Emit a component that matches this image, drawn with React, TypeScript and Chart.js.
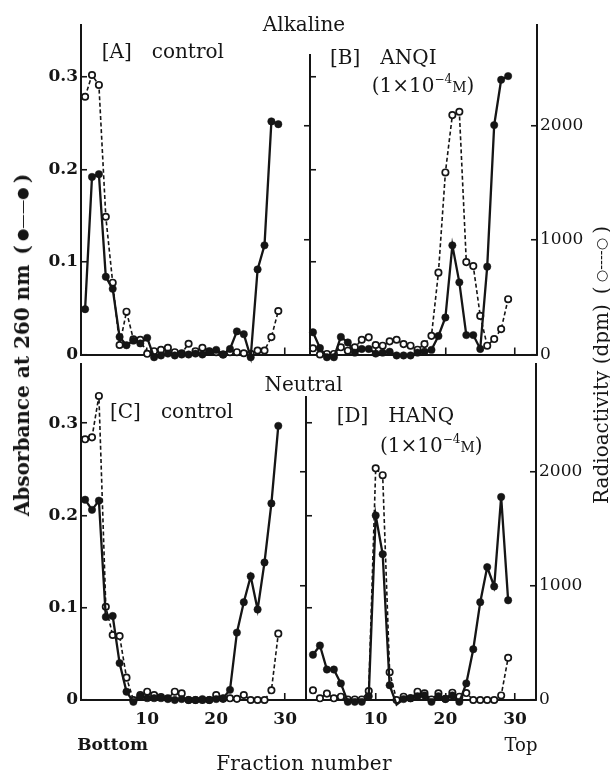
import React, { useEffect, useRef } from 'react';
import { Chart, registerables } from 'chart.js';

Chart.register(...registerables);

// ---------------- data ----------------
const fractions = [1, 2, 3, 4, 5, 6, 7, 8, 9, 10, 11, 12, 13, 14, 15, 16, 17, 18, 19, 20, 21, 22, 23, 24, 25, 26, 27, 28, 29];

// [A] Alkaline, control
const aAbs = [0.049, 0.192, 0.195, 0.084, 0.071, 0.019, 0.010, 0.015, 0.012, 0.018, -0.003, -0.001, 0.001, -0.001, 0, 0, 0.001, 0, 0.003, 0.005, 0, 0.006, 0.025, 0.022, -0.003, 0.092, 0.118, 0.252, 0.249];
const aDpm = [2251, 2441, 2354, 1203, 627, 83, 374, 133, 129, 6, 29, 41, 59, 20, 11, 94, 29, 59, 29, 20, 0, 20, 20, 11, 6, 35, 35, 152, 380];

// [B] Alkaline, ANQI
const bAbs = [0.024, 0.007, -0.003, -0.003, 0.019, 0.013, 0.002, 0.006, 0.006, 0.001, 0.002, 0.003, -0.001, -0.001, -0.001, 0.002, 0.003, 0.005, 0.020, 0.040, 0.118, 0.078, 0.021, 0.021, 0.006, 0.095, 0.248, 0.297, 0.301];
const bDpm = [54, 0, 5, 5, 63, 33, 63, 129, 150, 83, 77, 115, 129, 91, 77, 42, 91, 163, 715, 1590, 2091, 2120, 807, 772, 337, 77, 135, 222, 483];

// [C] Neutral, control
const cAbs = [0.217, 0.206, 0.216, 0.090, 0.091, 0.040, 0.009, -0.002, 0.004, 0.002, 0.002, 0.002, 0.001, 0, 0.001, 0, 0, 0.001, 0, 0.001, 0.002, 0.011, 0.073, 0.106, 0.134, 0.098, 0.149, 0.213, 0.297];
const cDpm = [2287, 2304, 2667, 818, 570, 561, 196, 0, 44, 73, 44, 26, 15, 73, 58, 0, 0, 0, 0, 44, 10, 15, 10, 44, 0, 0, 0, 85, 582];

// [D] Neutral, HANQ
const dAbs = [0.049, 0.059, 0.033, 0.033, 0.018, -0.002, -0.002, -0.002, 0.004, 0.200, 0.158, 0.016, -0.005, 0.001, 0.002, 0.004, 0.005, -0.002, 0.004, 0.001, 0.005, -0.002, 0.018, 0.055, 0.106, 0.144, 0.123, 0.220, 0.108];
const dDpm = [85, 15, 56, 15, 29, 5, 5, 5, 78, 2032, 1972, 244, 0, 29, 15, 73, 59, 5, 59, 10, 64, 29, 61, 0, 0, 0, 0, 40, 370];

const absTickValues = [0, 0.1, 0.2, 0.3];
const absTickLabels = ['0', '0.1', '0.2', '0.3'];
const dpmTickValues = [0, 1000, 2000];
const dpmTickLabels = ['0', '1000', '2000'];
const fractionTickValues = [10, 20, 30];
const fractionTickLabels = ['10', '20', '30'];

// ---------------- layout / style ----------------
const W = 610;
const H = 774;
const INK = '#151515';
const SERIF = '"DejaVu Serif", "Liberation Serif", serif';
const X_LABEL_BAND = 40;

// pixel of fraction 0 and pixels per fraction, left and right panels
const LEFT_X0 = 78.2;
const LEFT_STEP = 6.9;
const RIGHT_X0 = 306;
const RIGHT_STEP = 6.97;

type Row = {
  top: number; midTop: number; bottom: number; left: number; mid: number; right: number;
  absPx: number; dpmPx: number; showFractionLabels: boolean;
  leftAbs: number[]; leftDpm: number[]; rightAbs: number[]; rightDpm: number[];
};

const rowAlkaline: Row = {
  top: 25, midTop: 55, bottom: 354.5, left: 81, mid: 310, right: 537,
  absPx: 925, dpmPx: 0.1145, showFractionLabels: false,
  leftAbs: aAbs, leftDpm: aDpm, rightAbs: bAbs, rightDpm: bDpm,
};
const rowNeutral: Row = {
  top: 364, midTop: 397, bottom: 700, left: 81, mid: 306, right: 536,
  absPx: 923, dpmPx: 0.114, showFractionLabels: true,
  leftAbs: cAbs, leftDpm: cDpm, rightAbs: dAbs, rightDpm: dDpm,
};

const fixSize = (w?: number, h?: number) => (s: any) => {
  if (w !== undefined) s.width = w;
  if (h !== undefined) s.height = h;
  s.paddingTop = 0; s.paddingBottom = 0; s.paddingLeft = 0; s.paddingRight = 0;
};
const setTicks = (values: number[]) => (s: any) => {
  s.ticks = values.map((v) => ({ value: v }));
};

const solidSet = (ys: number[], xAxisID: string) => ({
  data: fractions.map((f, i) => ({ x: f, y: ys[i] })),
  xAxisID, yAxisID: 'yAbs',
  borderColor: INK, backgroundColor: INK, borderWidth: 2.3,
  pointRadius: 3.7, pointBackgroundColor: INK, pointBorderColor: INK, pointBorderWidth: 0.5,
  tension: 0, clip: false, order: 0,
});
const openSet = (ys: number[], xAxisID: string) => ({
  data: fractions.map((f, i) => ({ x: f, y: ys[i] })),
  xAxisID, yAxisID: 'yDpm',
  borderColor: INK, backgroundColor: '#fff', borderWidth: 1.6, borderDash: [4, 2.6],
  pointRadius: 3.2, pointBackgroundColor: '#fff', pointBorderColor: INK, pointBorderWidth: 1.7,
  tension: 0, clip: false, order: 1,
});

const grid = (tickLength: number) => ({
  display: true, drawOnChartArea: false, drawTicks: true, tickLength,
  color: INK, tickColor: INK, lineWidth: 1.5, tickWidth: 1.6,
});
const border = (display = true) => ({ display, color: INK, width: 2 });

const xScale = (min: number, max: number, weight: number, showLabels: boolean) => ({
  type: 'linear', position: 'bottom', min, max, bounds: 'data',
  stack: 'fraction', stackWeight: weight,
  afterBuildTicks: setTicks(fractionTickValues),
  afterFit: fixSize(undefined, showLabels ? X_LABEL_BAND : 0),
  grid: grid(-7),
  border: border(),
  ticks: {
    display: showLabels, padding: 16, maxRotation: 0, autoSkip: false, color: INK,
    font: { family: SERIF, size: 17, weight: 'bold' },
    callback: (_v: any, i: number) => fractionTickLabels[i],
  },
});

const baseOptions = {
  responsive: false, animation: false, devicePixelRatio: 1, events: [],
  plugins: { legend: { display: false }, tooltip: { enabled: false }, title: { display: false } },
};

function mainConfig(row: Row): any {
  const h = row.bottom - row.top;
  const band = row.showFractionLabels ? X_LABEL_BAND : 0;
  return {
    type: 'line',
    data: {
      datasets: [
        solidSet(row.leftAbs, 'xL'),
        solidSet(row.rightAbs, 'xR'),
        openSet(row.leftDpm, 'xL'),
        openSet(row.rightDpm, 'xR'),
      ],
    },
    options: {
      ...baseOptions,
      layout: { padding: { left: 0, right: 0, top: row.top, bottom: H - row.bottom - band } },
      scales: {
        xL: xScale((row.left - LEFT_X0) / LEFT_STEP, (row.mid - LEFT_X0) / LEFT_STEP, row.mid - row.left, row.showFractionLabels),
        xR: xScale((row.mid - RIGHT_X0) / RIGHT_STEP, (row.right - RIGHT_X0) / RIGHT_STEP, row.right - row.mid, row.showFractionLabels),
        yAbs: {
          type: 'linear', position: 'left', min: 0, max: h / row.absPx, bounds: 'data',
          afterBuildTicks: setTicks(absTickValues),
          afterFit: fixSize(row.left, undefined),
          grid: grid(-6), border: border(),
          ticks: {
            padding: 9, color: INK, font: { family: SERIF, size: 17, weight: 'bold' },
            callback: (_v: any, i: number) => absTickLabels[i],
          },
        },
        yDpm: {
          type: 'linear', position: 'right', min: 0, max: h / row.dpmPx, bounds: 'data',
          afterBuildTicks: setTicks(dpmTickValues),
          afterFit: fixSize(W - row.right, undefined),
          grid: grid(-6), border: border(),
          ticks: {
            padding: 9, color: INK, font: { family: SERIF, size: 17, weight: 'normal' },
            callback: (_v: any, i: number) => dpmTickLabels[i],
          },
        },
      },
    },
  };
}

// the divider axis between the two panels of a row
function midConfig(row: Row): any {
  const h = row.bottom - row.midTop;
  return {
    type: 'line',
    data: { datasets: [] },
    options: {
      ...baseOptions,
      layout: { padding: { left: row.mid, right: W - row.mid - 20, top: row.midTop, bottom: H - row.bottom } },
      scales: {
        x: { type: 'linear', display: false, min: 0, max: 1 },
        yAbs: {
          type: 'linear', position: 'left', min: 0, max: h / row.absPx, bounds: 'data',
          afterBuildTicks: setTicks(absTickValues.slice(1)),
          afterFit: fixSize(0, undefined),
          grid: grid(-6), border: border(),
          ticks: { display: false },
        },
        yDpm: {
          type: 'linear', position: 'left', min: 0, max: h / row.dpmPx, bounds: 'data',
          afterBuildTicks: setTicks(dpmTickValues.slice(1)),
          afterFit: fixSize(0, undefined),
          grid: grid(6), border: border(false),
          ticks: { display: false },
        },
      },
    },
  };
}

function ChartCanvas({ make }: { make: () => any }) {
  const ref = useRef<HTMLCanvasElement>(null);
  useEffect(() => {
    const chart = new Chart(ref.current as HTMLCanvasElement, make());
    return () => chart.destroy();
  }, [make]);
  return <canvas ref={ref} width={W} height={H} style={{ position: 'absolute', left: 0, top: 0 }} />;
}

const makeTop = () => mainConfig(rowAlkaline);
const makeTopMid = () => midConfig(rowAlkaline);
const makeBottom = () => mainConfig(rowNeutral);
const makeBottomMid = () => midConfig(rowNeutral);

type TxtProps = {
  x: number; y: number; anchor?: 'center' | 'left'; size?: number; weight?: string;
  rotate?: number; spacing?: number; children: React.ReactNode;
};
const Txt = ({ x, y, anchor = 'center', size = 20, weight = 'normal', rotate = 0, spacing = 0, children }: TxtProps) => (
  <div
    style={{
      position: 'absolute', left: x, top: y, whiteSpace: 'nowrap',
      fontFamily: SERIF, fontSize: size, fontWeight: weight as any, lineHeight: 1, color: INK,
      letterSpacing: spacing,
      transform: (anchor === 'center' ? 'translate(-50%,-50%)' : 'translate(0,-50%)') + (rotate ? ` rotate(${rotate}deg)` : ''),
    }}
  >
    {children}
  </div>
);

const Molar = () => (
  <>
    (1×10
    <span style={{ fontSize: '0.6em', position: 'relative', top: '-0.75em' }}>−4</span>
    <span style={{ fontSize: '0.7em' }}>M</span>)
  </>
);

const Sym = ({ children }: { children: React.ReactNode }) => (
  <span style={{ fontSize: '0.72em', fontWeight: 'normal', position: 'relative', top: '-0.12em' }}>{children}</span>
);

export default function App() {
  return (
    <div style={{ position: 'absolute', left: 0, top: 0, width: W, height: H, background: '#fff', overflow: 'hidden' }}>
      <ChartCanvas make={makeTop} />
      <ChartCanvas make={makeTopMid} />
      <ChartCanvas make={makeBottom} />
      <ChartCanvas make={makeBottomMid} />

      <Txt x={304} y={23.5}>Alkaline</Txt>
      <Txt x={303.5} y={383.5}>Neutral</Txt>

      <Txt x={101.7} y={51} anchor="left">[A]{'\u2003'}control</Txt>
      <Txt x={330} y={56.7} anchor="left">[B]{'\u2003'}ANQI</Txt>
      <Txt x={371.7} y={85} anchor="left"><Molar /></Txt>
      <Txt x={110} y={411} anchor="left">[C]{'\u2003'}control</Txt>
      <Txt x={336.7} y={415} anchor="left">[D]{'\u2003'}HANQ</Txt>
      <Txt x={380} y={445} anchor="left"><Molar /></Txt>

      <Txt x={112.5} y={744} size={17} weight="bold">Bottom</Txt>
      <Txt x={521} y={745} size={18}>Top</Txt>
      <Txt x={304} y={763} size={20} spacing={0.3}>Fraction number</Txt>

      <Txt x={22} y={345} size={20} weight="bold" rotate={-90}>
        Absorbance at 260 nm{'\u2002'}({'\u2009'}<Sym>●——●</Sym>{'\u2009'})
      </Txt>
      <Txt x={601} y={365} size={20} rotate={-90}>
        Radioactivity (dpm){'\u2002'}({'\u2009'}<Sym>○----○</Sym>{'\u2009'})
      </Txt>
    </div>
  );
}
